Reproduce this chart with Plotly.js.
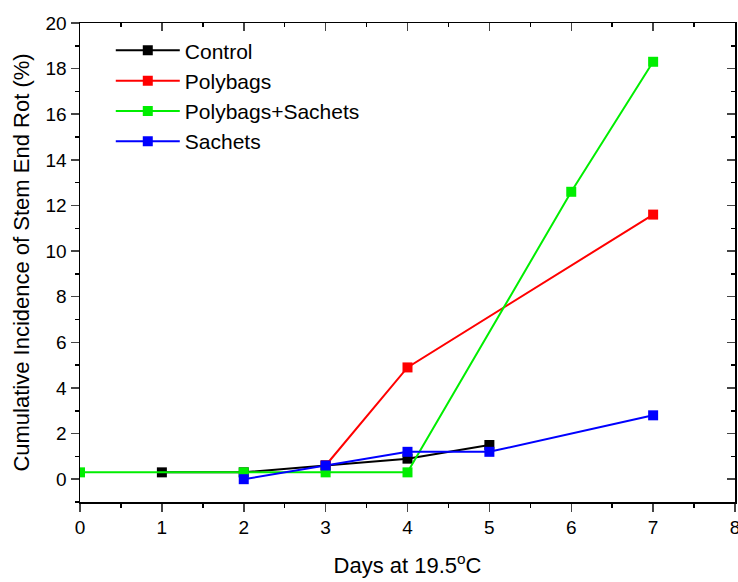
<!DOCTYPE html>
<html>
<head>
<meta charset="utf-8">
<script src="https://cdn.plot.ly/plotly-3.0.1.min.js"></script>
<style>html,body{margin:0;padding:0;background:#fff;}#chart{width:738px;height:582px;}</style>
</head>
<body>
<div id="chart"></div>
<script>
// Data
const controlDays = [1, 2, 3, 4, 5];
const controlVals = [0.3, 0.3, 0.6, 0.9, 1.5];
const polybagsDays = [3, 4, 7];
const polybagsVals = [0.6, 4.9, 11.6];
const polySachetsDays = [0, 2, 3, 4, 6, 7];
const polySachetsVals = [0.3, 0.3, 0.3, 0.3, 12.6, 18.3];
const sachetsDays = [2, 3, 4, 5, 7];
const sachetsVals = [0, 0.6, 1.2, 1.2, 2.8];
const seriesNames = ['Control', 'Polybags', 'Polybags+Sachets', 'Sachets'];
const seriesColors = ['#000000', '#ff0000', '#00ee00', '#0000ff'];
const yMajorTicks = [0, 2, 4, 6, 8, 10, 12, 14, 16, 18, 20];
const yMinorTicks = [-1, 1, 3, 5, 7, 9, 11, 13, 15, 17, 19];

const xs = [controlDays, polybagsDays, polySachetsDays, sachetsDays];
const ys = [controlVals, polybagsVals, polySachetsVals, sachetsVals];

const traces = seriesNames.map((n, i) => ({
  x: xs[i], y: ys[i], name: n, type: 'scatter', mode: 'lines+markers',
  line: {color: seriesColors[i], width: 2},
  marker: {symbol: 'square', size: 10, color: seriesColors[i]}
}));

const font = {family: 'Liberation Sans, Arial, sans-serif', color: '#000'};
const layout = {
  width: 738, height: 582,
  margin: {l: 80, r: 3, t: 23, b: 80},
  paper_bgcolor: '#fff', plot_bgcolor: '#fff',
  font: Object.assign({size: 19}, font),
  showlegend: true,
  legend: {x: 0.047, y: 0.985, xanchor: 'left', yanchor: 'top', bgcolor: 'rgba(0,0,0,0)',
           font: Object.assign({size: 21}, font), tracegroupgap: 0, itemwidth: 64},
  xaxis: {range: [0, 8], dtick: 1, tick0: 0, ticks: 'outside', ticklen: 8, tickwidth: 1.5,
          showline: true, linecolor: '#000', linewidth: 1.5, showgrid: false, zeroline: false,
          tickfont: Object.assign({size: 19}, font), ticklabeloverflow: 'allow',
          minor: {ticks: 'outside', dtick: 0.5, ticklen: 4, tickwidth: 1.5, tickcolor: '#000'},
          title: {text: 'Days at 19.5<sup>o</sup>C', font: Object.assign({size: 22}, font), standoff: 20}},
  yaxis: {range: [-1, 20], tickvals: yMajorTicks, ticks: 'outside', ticklen: 8, tickwidth: 1.5,
          showline: true, linecolor: '#000', linewidth: 1.5, showgrid: false, zeroline: false,
          tickfont: Object.assign({size: 19}, font),
          minor: {ticks: 'outside', tickvals: yMinorTicks, ticklen: 4, tickwidth: 1.5, tickcolor: '#000'},
          title: {text: 'Cumulative Incidence of Stem End Rot (%)', font: Object.assign({size: 22}, font), standoff: 10}},
  xaxis2: {overlaying: 'x', side: 'top', range: [0, 8], dtick: 1, ticks: 'inside', ticklen: 8, tickwidth: 1.5,
           showticklabels: false, showline: true, linecolor: '#000', linewidth: 1.5, showgrid: false, zeroline: false,
           minor: {ticks: 'inside', dtick: 0.5, ticklen: 4, tickwidth: 1.5, tickcolor: '#000'}},
  yaxis2: {overlaying: 'y', side: 'right', range: [-1, 20], tickvals: yMajorTicks, ticks: 'inside', ticklen: 8, tickwidth: 1.5,
           showticklabels: false, showline: true, linecolor: '#000', linewidth: 1.5, showgrid: false, zeroline: false,
           minor: {ticks: 'inside', tickvals: yMinorTicks, ticklen: 4, tickwidth: 1.5, tickcolor: '#000'}}
};
// invisible trace to activate the mirror axes (top/right inward ticks)
traces.push({x: [0], y: [0], xaxis: 'x2', yaxis: 'y2', mode: 'markers', marker: {opacity: 0}, showlegend: false, hoverinfo: 'skip'});

Plotly.newPlot('chart', traces, layout, {displayModeBar: false, staticPlot: true});
</script>
</body>
</html>
